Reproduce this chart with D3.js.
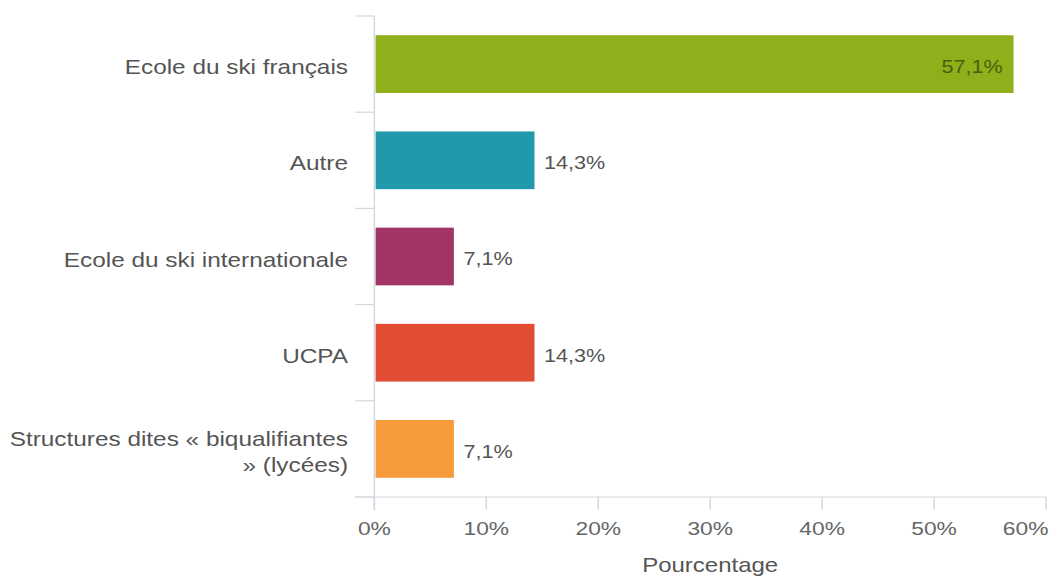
<!DOCTYPE html>
<html>
<head>
<meta charset="utf-8">
<script src="https://cdn.jsdelivr.net/npm/d3@7"></script>
<style>
  body { margin: 0; background: #fff; }
  svg { display: block; font-family: "Liberation Sans", Arial, sans-serif; }
</style>
</head>
<body>
<div id="chart"></div>
<script>
// data
var categories = [
  ["Ecole du ski français"],
  ["Autre"],
  ["Ecole du ski internationale"],
  ["UCPA"],
  ["Structures dites « biqualifiantes", "» (lycées)"]
];
var values = [57.1, 14.3, 7.1, 14.3, 7.1];
var barColors = ["#8fb01a", "#2199aa", "#a13566", "#e14d33", "#f79a3b"];
var xTicks = [0, 10, 20, 30, 40, 50, 60];
var xTitle = "Pourcentage";

// the source picture is stretched sideways, so draw narrow and stretch
var stretch = 1.2;
var outerW = 1052, outerH = 577;
var width = outerW / stretch, height = outerH;
var margin = { top: 16, right: 5, bottom: 80, left: 312 };

var svg = d3.select("#chart").append("svg")
  .attr("width", outerW)
  .attr("height", outerH)
  .attr("viewBox", "0 0 " + width + " " + height)
  .attr("preserveAspectRatio", "none");

var x = d3.scaleLinear()
  .domain([0, 60])
  .range([margin.left, width - margin.right]);

var y = d3.scaleBand()
  .domain(d3.range(categories.length))
  .range([margin.top, height - margin.bottom])
  .paddingInner(0.4)
  .paddingOuter(0.2);

var axisColor = "#d3d7df";
var y0 = y.range()[0], y1 = y.range()[1];

// category separators on the left
var sep = d3.range(categories.length + 1).map(function(i) { return y0 + i * y.step(); });

svg.append("g").selectAll("line")
  .data(sep)
  .enter().append("line")
  .attr("x1", x(0) - 16)
  .attr("x2", x(0))
  .attr("y1", function(d) { return d; })
  .attr("y2", function(d) { return d; })
  .attr("stroke", axisColor)
  .attr("stroke-width", 1.2);

// bottom axis line
svg.append("line")
  .attr("x1", x(0) - 16)
  .attr("x2", x(60))
  .attr("y1", y1)
  .attr("y2", y1)
  .attr("stroke", axisColor)
  .attr("stroke-width", 1.2);

// left axis line
svg.append("line")
  .attr("x1", x(0))
  .attr("x2", x(0))
  .attr("y1", y0)
  .attr("y2", y1 + 13)
  .attr("stroke", axisColor)
  .attr("stroke-width", 1.2);

// x ticks
var xg = svg.append("g");
xg.selectAll("line")
  .data(xTicks)
  .enter().append("line")
  .attr("x1", function(d) { return x(d); })
  .attr("x2", function(d) { return x(d); })
  .attr("y1", y1)
  .attr("y2", y1 + 13)
  .attr("stroke", axisColor)
  .attr("stroke-width", 1.2);

xg.selectAll("text")
  .data(xTicks)
  .enter().append("text")
  .attr("x", function(d, i) { return i === xTicks.length - 1 ? x(d) + 2 : x(d); })
  .attr("y", y1 + 38)
  .attr("text-anchor", function(d, i) { return i === xTicks.length - 1 ? "end" : "middle"; })
  .attr("font-size", 19)
  .attr("fill", "#666")
  .text(function(d) { return d + "%"; });

svg.append("text")
  .attr("x", (x(0) + x(60)) / 2)
  .attr("y", y1 + 75)
  .attr("text-anchor", "middle")
  .attr("font-size", 20)
  .attr("fill", "#555")
  .text(xTitle);

// bars
svg.append("g").selectAll("rect")
  .data(values)
  .enter().append("rect")
  .attr("x", x(0) + 1)
  .attr("y", function(d, i) { return y(i); })
  .attr("width", function(d) { return x(d) - x(0) - 1; })
  .attr("height", y.bandwidth())
  .attr("fill", function(d, i) { return barColors[i]; });

// value labels
svg.append("g").selectAll("text")
  .data(values)
  .enter().append("text")
  .attr("x", function(d) { return d > 40 ? x(d) - 9 : x(d) + 8; })
  .attr("y", function(d, i) { return y(i) + y.bandwidth() / 2; })
  .attr("dy", "0.5em")
  .attr("text-anchor", function(d) { return d > 40 ? "end" : "start"; })
  .attr("font-size", 18)
  .attr("fill", function(d) { return d > 40 ? "#4a5e10" : "#555"; })
  .text(function(d) { return String(d).replace(".", ",") + "%"; });

// category labels
var cg = svg.append("g").selectAll("text")
  .data(categories)
  .enter().append("text")
  .attr("x", x(0) - 22)
  .attr("y", function(d, i) { return y(i) + y.bandwidth() / 2; })
  .attr("text-anchor", "end")
  .attr("font-size", 20.3)
  .attr("fill", "#555");

cg.selectAll("tspan")
  .data(function(d) { return d.map(function(t, j) { return { t: t, j: j, n: d.length }; }); })
  .enter().append("tspan")
  .attr("x", x(0) - 22)
  .attr("dy", function(d) { return d.j === 0 ? (0.5 - (d.n - 1) * 0.65) + "em" : "1.3em"; })
  .text(function(d) { return d.t; });
</script>
</body>
</html>
